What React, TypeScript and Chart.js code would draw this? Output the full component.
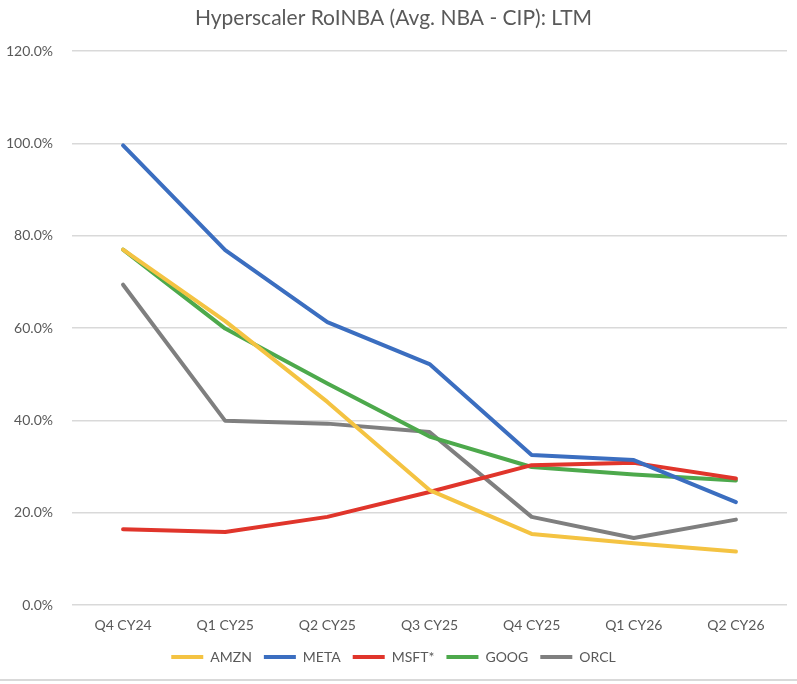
import React, { useEffect, useRef } from "react";
import { Chart, registerables } from "chart.js";

Chart.register(...registerables);

const TITLE = "Hyperscaler RoINBA (Avg. NBA - CIP): LTM";
const categories = ["Q4 CY24", "Q1 CY25", "Q2 CY25", "Q3 CY25", "Q4 CY25", "Q1 CY26", "Q2 CY26"];

const amzn = [77.0, 61.5, 44.0, 24.9, 15.4, 13.4, 11.6];
const meta = [99.6, 76.9, 61.3, 52.2, 32.5, 31.4, 22.3];
const msft = [16.4, 15.8, 19.1, 24.5, 30.3, 30.8, 27.4];
const goog = [77.0, 59.9, 48.0, 36.5, 29.9, 28.3, 27.0];
const orcl = [69.4, 39.9, 39.3, 37.5, 19.1, 14.5, 18.5];

const seriesNames = ["AMZN", "META", "MSFT*", "GOOG", "ORCL"];
const seriesColors = ["#F4C342", "#3B6EC0", "#E0352B", "#4DA94C", "#7F7F7F"];

const yMin = 0;
const yMax = 120;
const yStep = 20;

const FONT = "Lato, 'Open Sans', sans-serif";
const TEXT = "#595959";

export default function App() {
  const ref = useRef<HTMLCanvasElement | null>(null);

  useEffect(() => {
    if (!ref.current) return;
    const values = [amzn, meta, msft, goog, orcl];
    const bottomLine = {
      id: "bottomLine",
      afterDraw(chart: any) {
        const ctx = chart.ctx;
        ctx.save();
        ctx.strokeStyle = "#d9d9d9";
        ctx.lineWidth = 2;
        ctx.beginPath();
        ctx.moveTo(0, 680);
        ctx.lineTo(chart.width, 680);
        ctx.stroke();
        ctx.restore();
      },
    };
    const chart = new Chart(ref.current, {
      type: "line",
      data: {
        labels: categories,
        datasets: seriesNames.map((name, i) => ({
          label: name,
          data: values[i],
          borderColor: seriesColors[i],
          backgroundColor: seriesColors[i],
          borderWidth: 4,
          borderCapStyle: "round",
          borderJoinStyle: "round",
          pointRadius: 0,
          pointHoverRadius: 0,
          tension: 0,
          fill: false,
        })),
      },
      options: {
        responsive: false,
        animation: false,
        maintainAspectRatio: false,
        layout: { padding: { left: 0, right: 10, top: 0, bottom: 10 } },
        plugins: {
          title: {
            display: true,
            text: TITLE,
            color: TEXT,
            font: { family: FONT, size: 21, weight: "normal" },
            padding: { top: 6, bottom: 20 },
          },
          legend: {
            position: "bottom",
            labels: {
              color: TEXT,
              font: { family: FONT, size: 14 },
              usePointStyle: true,
              pointStyle: "line",
              pointStyleWidth: 32,
              padding: 12,
            },
          },
          tooltip: { enabled: false },
        },
        scales: {
          x: {
            offset: true,
            afterFit: (s: any) => {
              s.height = 33;
            },
            grid: { display: false, drawTicks: false, offset: true },
            border: { display: false },
            ticks: { color: TEXT, font: { family: FONT, size: 14 }, padding: 12, maxRotation: 0 },
          },
          y: {
            min: yMin,
            max: yMax,
            afterFit: (s: any) => {
              s.width = 72;
            },
            grid: { color: "#d9d9d9", lineWidth: 1.5, drawTicks: false },
            border: { display: false },
            ticks: {
              stepSize: yStep,
              color: TEXT,
              font: { family: FONT, size: 14 },
              padding: 19,
              callback: (v: any) => Number(v).toFixed(1) + "%",
            },
          },
        },
      },
      plugins: [bottomLine],
    } as any);
    return () => chart.destroy();
  }, []);

  return (
    <div style={{ position: "fixed", left: 0, top: 0, width: 797, height: 684, background: "#fff" }}>
      <canvas ref={ref} width={797} height={684} style={{ width: 797, height: 684 }} />
    </div>
  );
}
